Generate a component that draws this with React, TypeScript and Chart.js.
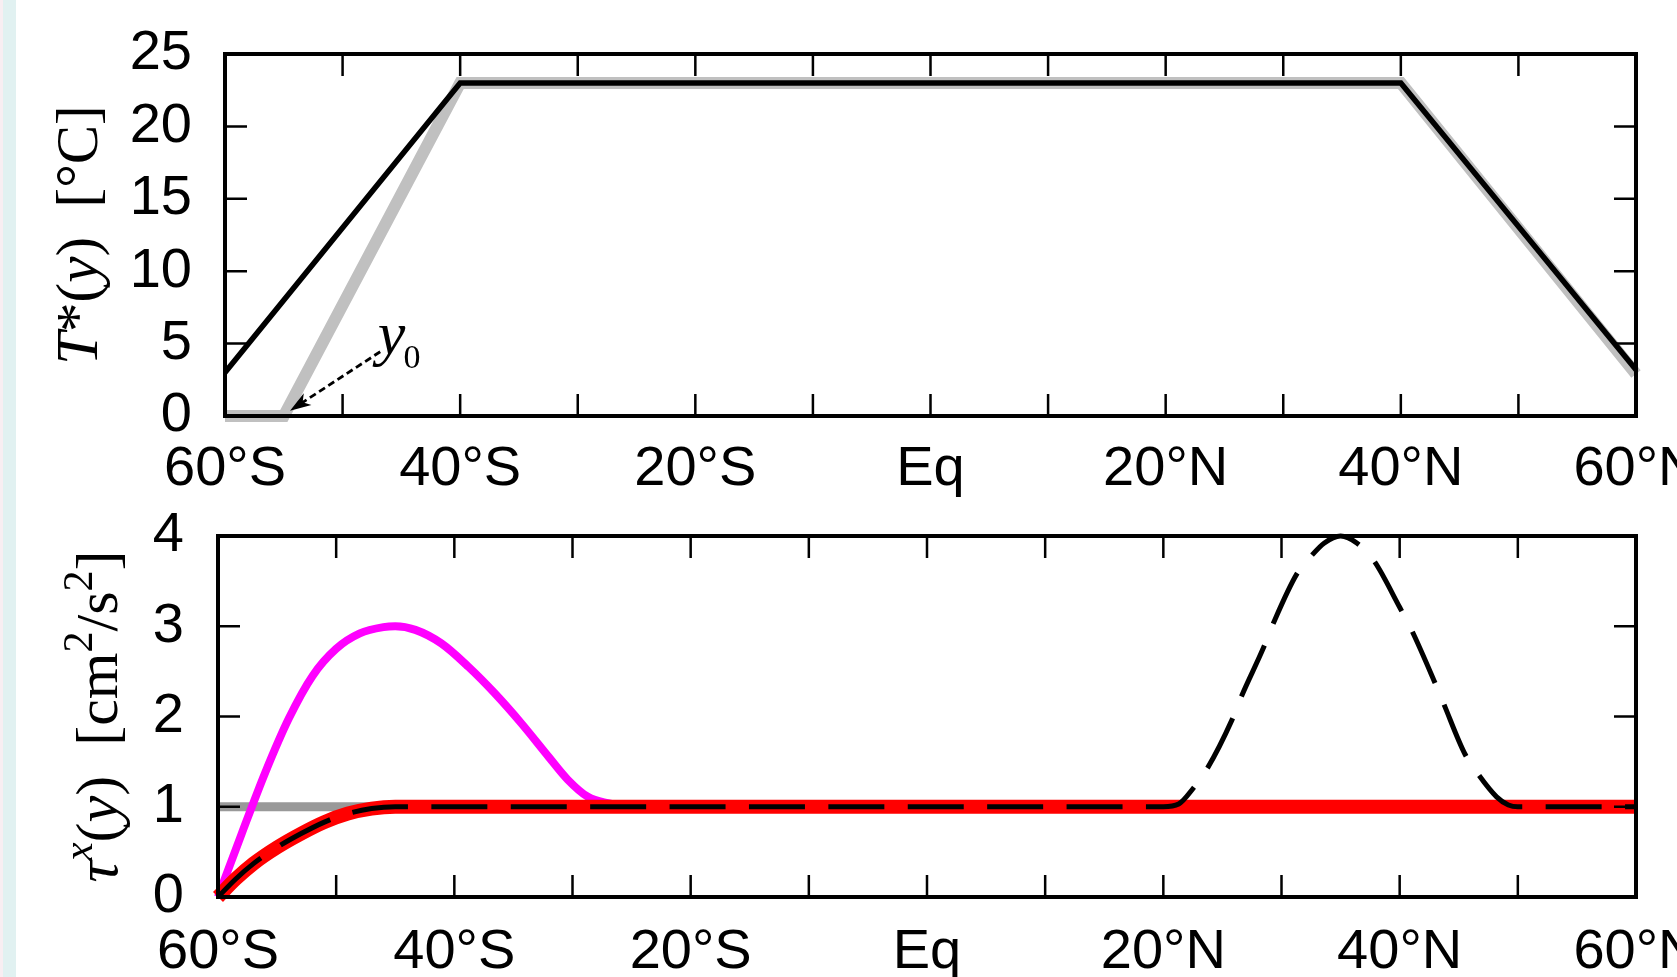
import React, { useEffect, useRef } from 'react';
import { Chart, registerables } from 'chart.js';

Chart.register(...registerables);

// ---------- data ----------
const latTicks = [-60, -40, -20, 0, 20, 40, 60];
const latTickLabels = ['60°S', '40°S', '20°S', 'Eq', '20°N', '40°N', '60°N'];
const latMinorTicks = [-60, -50, -40, -30, -20, -10, 0, 10, 20, 30, 40, 50, 60];
const tempTicks = [0, 5, 10, 15, 20, 25];
const tauTicks = [0, 1, 2, 3, 4];

// top panel: T*(y)
const tStarLat = [-60, -40, 40, 60];
const tStarVal = [3, 23, 23, 3.2];
const tStarShadeLat = [-60, -55, -40, 40, 60];
const tStarShadeVal = [0, 0, 23, 23, 2.9];

// bottom panel: tau^x(y)
const tauBaseLat = [-60, 60];
const tauBaseVal = [1, 1];
const tauRedLat = [-60, -58.5, -57, -55, -53, -51, -49, -47, -45, 60];
const tauRedVal = [0, 0.2, 0.37, 0.55, 0.7, 0.83, 0.925, 0.98, 1, 1];
const tauMagentaLat = [-60, -58, -56, -54, -52, -50, -48, -46, -45, -43.3, -41.1, -38.8, -36.6, -34.3, -32, -30.4, -28.7, -27, -25, 60];
const tauMagentaVal = [0, 0.7, 1.38, 1.98, 2.45, 2.75, 2.92, 2.99, 3, 2.96, 2.81, 2.55, 2.26, 1.92, 1.55, 1.3, 1.11, 1.04, 1, 1];
const tauDashedLat = [-60, -58.5, -57, -55, -53, -51, -49, -47, -45, 20, 21.3, 22.5, 23.7, 25.8, 26.6, 28.5, 29.3, 31.3, 32.6, 33.6, 35, 36.4, 37.8, 40, 41, 42.9, 43.7, 45.5, 46.7, 48.2, 49.2, 50, 60];
const tauDashedVal = [0, 0.2, 0.37, 0.55, 0.7, 0.83, 0.925, 0.98, 1, 1, 1.03, 1.2, 1.42, 1.96, 2.22, 2.77, 3.03, 3.58, 3.79, 3.92, 4, 3.92, 3.73, 3.21, 2.96, 2.4, 2.15, 1.59, 1.35, 1.11, 1.02, 1, 1];

// y0 annotation (data coordinates)
const y0LabelAt = { lat: -47.0, val: 4.28 };
const y0ArrowFrom = { lat: -46.8, val: 4.44 };
const y0ArrowTo = { lat: -54.47, val: 0.37 };

// ---------- layout ----------
const CANVAS_W = 1760;
const TOP_H = 500;
const BOT_H = 477;
const SANS = '"Liberation Sans", Arial, Helvetica, sans-serif';
const SERIF = '"Liberation Serif", "Times New Roman", serif';

const zip = (xs: number[], ys: number[]) => xs.map((x, i) => ({ x, y: ys[i] }));

type Run = { t: string; italic?: boolean; sup?: boolean };

function drawRotatedRuns(ctx: CanvasRenderingContext2D, runs: Run[], cx: number, cy: number, size: number, supScale: number) {
  ctx.save();
  ctx.translate(cx, cy);
  ctx.rotate(-Math.PI / 2);
  const fontFor = (r: Run) => `${r.italic ? 'italic ' : ''}${r.sup ? size * supScale : size}px ${SERIF}`;
  const widths = runs.map((r) => {
    ctx.font = fontFor(r);
    return ctx.measureText(r.t).width;
  });
  const total = widths.reduce((a, b) => a + b, 0);
  let x = -total / 2;
  ctx.textAlign = 'left';
  ctx.textBaseline = 'alphabetic';
  ctx.fillStyle = '#000';
  runs.forEach((r, i) => {
    ctx.font = fontFor(r);
    ctx.fillText(r.t, x, r.sup ? -size * 0.42 : 0);
    x += widths[i];
  });
  ctx.restore();
}

function framePlugin(xMinor: number[], yTicks: number[]) {
  return {
    id: 'frameTicks',
    afterDatasetsDraw(chart: any) {
      const { ctx, chartArea: a, scales } = chart;
      const L = 22;
      ctx.save();
      ctx.strokeStyle = '#000';
      ctx.lineCap = 'butt';
      ctx.lineWidth = 2.5;
      ctx.beginPath();
      xMinor.forEach((v) => {
        const p = scales.x.getPixelForValue(v);
        ctx.moveTo(p, a.bottom);
        ctx.lineTo(p, a.bottom - L);
        ctx.moveTo(p, a.top);
        ctx.lineTo(p, a.top + L);
      });
      yTicks.forEach((v) => {
        const p = scales.y.getPixelForValue(v);
        ctx.moveTo(a.left, p);
        ctx.lineTo(a.left + L, p);
        ctx.moveTo(a.right, p);
        ctx.lineTo(a.right - L, p);
      });
      ctx.stroke();
      ctx.lineWidth = 4;
      ctx.lineJoin = 'miter';
      ctx.strokeRect(a.left, a.top, a.right - a.left, a.bottom - a.top);
      ctx.restore();
    },
  };
}

function titlePlugin(runs: Run[], dxFromLeft: number, size: number, supScale: number) {
  return {
    id: 'yTitle',
    afterDraw(chart: any) {
      const { ctx, chartArea: a } = chart;
      drawRotatedRuns(ctx, runs, a.left - dxFromLeft, (a.top + a.bottom) / 2, size, supScale);
    },
  };
}

const y0Plugin = {
  id: 'y0Annotation',
  afterDraw(chart: any) {
    const { ctx, scales } = chart;
    const xs = scales.x;
    const ys = scales.y;
    const fx = xs.getPixelForValue(y0ArrowFrom.lat);
    const fy = ys.getPixelForValue(y0ArrowFrom.val);
    const tx = xs.getPixelForValue(y0ArrowTo.lat);
    const ty = ys.getPixelForValue(y0ArrowTo.val);
    const ang = Math.atan2(ty - fy, tx - fx);
    const headLen = 21;
    const headW = 7;
    ctx.save();
    ctx.strokeStyle = '#000';
    ctx.fillStyle = '#000';
    ctx.lineWidth = 2.8;
    ctx.setLineDash([7, 4]);
    ctx.beginPath();
    ctx.moveTo(fx, fy);
    ctx.lineTo(tx - Math.cos(ang) * headLen * 0.7, ty - Math.sin(ang) * headLen * 0.7);
    ctx.stroke();
    ctx.setLineDash([]);
    const bx = tx - Math.cos(ang) * headLen;
    const by = ty - Math.sin(ang) * headLen;
    const nx = -Math.sin(ang);
    const ny = Math.cos(ang);
    const mx = tx - Math.cos(ang) * headLen * 0.72;
    const my = ty - Math.sin(ang) * headLen * 0.72;
    ctx.beginPath();
    ctx.moveTo(tx, ty);
    ctx.lineTo(bx + nx * headW, by + ny * headW);
    ctx.lineTo(mx, my);
    ctx.lineTo(bx - nx * headW, by - ny * headW);
    ctx.closePath();
    ctx.fill();
    const lx = xs.getPixelForValue(y0LabelAt.lat);
    const ly = ys.getPixelForValue(y0LabelAt.val);
    ctx.textAlign = 'left';
    ctx.textBaseline = 'alphabetic';
    ctx.font = `italic 62px ${SERIF}`;
    ctx.fillText('y', lx, ly);
    const w = ctx.measureText('y').width;
    ctx.font = `34px ${SERIF}`;
    ctx.fillText('0', lx + w - 2, ly + 14);
    ctx.restore();
  },
};

function latAxis(padding: number, height: number) {
  return {
    type: 'linear',
    min: -60,
    max: 60,
    afterBuildTicks: (s: any) => {
      s.ticks = latTicks.map((v) => ({ value: v }));
    },
    afterFit: (s: any) => {
      s.height = height;
      s.paddingLeft = 0;
      s.paddingRight = 0;
      s.paddingTop = 0;
      s.paddingBottom = 0;
    },
    ticks: {
      autoSkip: false,
      maxRotation: 0,
      minRotation: 0,
      padding,
      color: '#000',
      font: { family: SANS, size: 56 },
      callback: (v: any) => {
        const i = latTicks.indexOf(Number(v));
        return i >= 0 ? latTickLabels[i] : '';
      },
    },
    grid: { display: false, drawTicks: false },
    border: { display: false },
  };
}

function valueAxis(min: number, max: number, ticks: number[], padding: number, width: number) {
  return {
    type: 'linear',
    min,
    max,
    afterBuildTicks: (s: any) => {
      s.ticks = ticks.map((v) => ({ value: v }));
    },
    afterFit: (s: any) => {
      s.width = width;
      s.paddingLeft = 0;
      s.paddingRight = 0;
      s.paddingTop = 0;
      s.paddingBottom = 0;
    },
    ticks: {
      autoSkip: false,
      padding,
      color: '#000',
      font: { family: SANS, size: 56 },
    },
    grid: { display: false, drawTicks: false },
    border: { display: false },
  };
}

export default function App() {
  const topRef = useRef<HTMLCanvasElement | null>(null);
  const botRef = useRef<HTMLCanvasElement | null>(null);

  useEffect(() => {
    if (!topRef.current || !botRef.current) return;
    const top = new Chart(topRef.current, {
      type: 'line',
      data: {
        datasets: [
          {
            data: zip(tStarShadeLat, tStarShadeVal),
            borderColor: '#c0c0c0',
            borderWidth: 12,
            pointRadius: 0,
            tension: 0,
            borderJoinStyle: 'miter',
            clip: false,
            order: 2,
          },
          {
            data: zip(tStarLat, tStarVal),
            borderColor: '#000000',
            borderWidth: 5.5,
            pointRadius: 0,
            tension: 0,
            borderJoinStyle: 'miter',
            clip: false,
            order: 1,
          },
        ],
      } as any,
      options: {
        animation: false,
        responsive: false,
        events: [],
        layout: { padding: { left: 0, top: 54, right: CANVAS_W - 1636, bottom: 0 } },
        plugins: { legend: { display: false }, tooltip: { enabled: false } },
        scales: {
          x: latAxis(20, TOP_H - 416),
          y: valueAxis(0, 25, tempTicks, 33, 225),
        } as any,
      },
      plugins: [
        framePlugin(latMinorTicks, tempTicks),
        titlePlugin(
          [
            { t: 'T', italic: true },
            { t: '*' },
            { t: '(' },
            { t: 'y', italic: true },
            { t: ')' },
            { t: '  [°C]' },
          ],
          128,
          59,
          0.65,
        ),
        y0Plugin,
      ],
    } as any);

    const bot = new Chart(botRef.current, {
      type: 'line',
      data: {
        datasets: [
          {
            data: zip(tauBaseLat, tauBaseVal),
            borderColor: '#999999',
            borderWidth: 9,
            pointRadius: 0,
            tension: 0,
            clip: false,
            order: 4,
          },
          {
            data: zip(tauMagentaLat, tauMagentaVal),
            borderColor: '#ff00ff',
            borderWidth: 8,
            pointRadius: 0,
            cubicInterpolationMode: 'monotone',
            clip: false,
            order: 3,
          },
          {
            data: zip(tauRedLat, tauRedVal),
            borderColor: '#ff0000',
            borderWidth: 14,
            pointRadius: 0,
            cubicInterpolationMode: 'monotone',
            clip: false,
            order: 2,
          },
          {
            data: zip(tauDashedLat, tauDashedVal),
            borderColor: '#000000',
            borderWidth: 5,
            borderDash: [56, 23.4],
            borderDashOffset: -2,
            pointRadius: 0,
            cubicInterpolationMode: 'monotone',
            clip: false,
            order: 1,
          },
        ],
      } as any,
      options: {
        animation: false,
        responsive: false,
        events: [],
        layout: { padding: { left: 0, top: 36, right: CANVAS_W - 1636, bottom: 0 } },
        plugins: { legend: { display: false }, tooltip: { enabled: false } },
        scales: {
          x: latAxis(22, BOT_H - 397),
          y: valueAxis(0, 4, tauTicks, 34, 218),
        } as any,
      },
      plugins: [
        framePlugin(latMinorTicks, tauTicks),
        titlePlugin(
          [
            { t: 'τ', italic: true },
            { t: 'x', italic: true, sup: true },
            { t: '(' },
            { t: 'y', italic: true },
            { t: ')' },
            { t: '  [cm' },
            { t: '2', sup: true },
            { t: '/s' },
            { t: '2', sup: true },
            { t: ']' },
          ],
          101,
          60,
          0.7,
        ),
      ],
    } as any);

    return () => {
      top.destroy();
      bot.destroy();
    };
  }, []);

  return (
    <div
      style={{
        position: 'absolute',
        left: 0,
        top: 0,
        width: 1677,
        height: 977,
        overflow: 'hidden',
        background: '#ffffff',
      }}
    >
      <div
        style={{
          position: 'absolute',
          left: 0,
          top: 0,
          width: 16,
          height: 977,
          background: 'linear-gradient(to right, #f8eef2 0px, #f8eef2 3px, #e1f1f1 3px, #e1f1f1 16px)',
        }}
      />
      <canvas
        ref={topRef}
        width={CANVAS_W}
        height={TOP_H}
        style={{ position: 'absolute', left: 0, top: 0, width: CANVAS_W, height: TOP_H }}
      />
      <canvas
        ref={botRef}
        width={CANVAS_W}
        height={BOT_H}
        style={{ position: 'absolute', left: 0, top: TOP_H, width: CANVAS_W, height: BOT_H }}
      />
    </div>
  );
}
